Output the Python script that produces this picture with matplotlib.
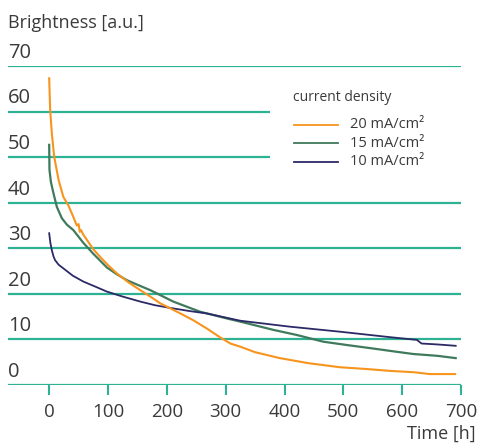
import matplotlib
matplotlib.use("Agg")
import matplotlib.pyplot as plt
from matplotlib.lines import Line2D

# ---- data ----
t_20 = [0, 1.7, 4.5, 8.5, 16, 24, 33, 40, 47, 50, 52, 54, 58, 67, 75, 86, 100, 115, 135, 155, 172, 189, 200, 223, 245, 268, 290, 308, 325, 350, 392, 440, 494, 540, 579, 620, 647, 690]
b_20 = [67.3, 60.3, 55.2, 50.1, 45, 41.3, 39.3, 37.2, 35.0, 35.3, 33.6, 34.0, 33.0, 31.3, 29.8, 28.2, 26.3, 24.5, 22.5, 20.8, 19.4, 17.9, 17.2, 15.7, 14.2, 12.4, 10.5, 9.1, 8.4, 7.2, 5.9, 4.8, 3.9, 3.5, 3.1, 2.8, 2.4, 2.4]

t_15 = [0, 0.5, 3, 7.4, 13, 21.5, 30, 41, 58, 75, 98, 115, 132, 150, 172, 211, 256, 302, 325, 381, 420, 466, 510, 551, 590, 619, 660, 691]
b_15 = [52.7, 47.2, 44.5, 42, 39.1, 36.6, 35.2, 34, 31.2, 28.8, 25.8, 24.3, 23, 22, 20.8, 18.3, 16.1, 14.6, 13.9, 12.1, 11, 9.5, 8.7, 8.0, 7.3, 6.8, 6.4, 5.9]

t_10 = [0, 2, 4.5, 7.4, 10, 16, 24, 40, 58, 80, 98, 125, 155, 180, 211, 240, 268, 300, 325, 409, 494, 579, 625, 633, 660, 691]
b_10 = [33.3, 31.2, 29.6, 28.2, 27.4, 26.4, 25.6, 24.0, 22.7, 21.5, 20.5, 19.4, 18.3, 17.5, 16.8, 16.2, 15.7, 14.8, 14.1, 12.8, 11.7, 10.5, 9.9, 9.1, 8.9, 8.6]

y_ticks = [0, 10, 20, 30, 40, 50, 60, 70]
x_ticks = [0, 100, 200, 300, 400, 500, 600, 700]
legend_labels = ["20 mA/cm²", "15 mA/cm²", "10 mA/cm²"]

C_ORANGE = "#f7941d"
C_GREEN = "#3f7a5c"
C_NAVY = "#2b2a66"
C_GRID = "#2db394"
C_TEXT = "#3a3a3a"

plt.rcParams['font.family'] = ['Open Sans', 'DejaVu Sans']

fig = plt.figure(figsize=(4.78, 4.43), dpi=100)
ax = fig.add_axes([8/478, 1-385/443, 453/478, 319/443])
ax.set_xlim(-70, 700)
ax.set_ylim(0, 70)
for s in ax.spines.values():
    s.set_visible(False)
ax.set_yticks([])
ax.set_xticks(x_ticks)
ax.set_xticklabels([str(v) for v in x_ticks], fontsize=13.5, color=C_TEXT)
ax.tick_params(axis='x', length=7, width=1.5, color=C_GRID, pad=6)

# gridlines
for v in y_ticks:
    xmax = 375 if v in (50, 60) else 700
    ax.plot([-70, xmax], [v, v], color=C_GRID, lw=1.6, zorder=1, solid_capstyle='butt')
    ax.text(-70, v + 0.7, str(v), fontsize=14.5, color=C_TEXT, ha='left', va='bottom')

ax.plot(t_20, b_20, color=C_ORANGE, lw=1.5, zorder=3)
ax.plot(t_15, b_15, color=C_GREEN, lw=1.6, zorder=2)
ax.plot(t_10, b_10, color=C_NAVY, lw=1.3, zorder=2)

fig.text(8/478, 1-28/443, "Brightness [a.u.]", fontsize=13, color=C_TEXT, ha='left', va='baseline')
fig.text(476/478, 1-439/443, "Time [h]", fontsize=13, color=C_TEXT, ha='right', va='baseline')

# legend
fig.text(293/478, 1-101/443, "current density", fontsize=10, color=C_TEXT, ha='left', va='baseline')
for i, (lab, c) in enumerate(zip(legend_labels, [C_ORANGE, C_GREEN, C_NAVY])):
    yp = 1 - (124.7 + 18.5*i)/443
    fig.add_artist(Line2D([294/478, 338/478], [yp, yp], color=c, lw=1.3, transform=fig.transFigure))
    fig.text(350/478, yp, lab, fontsize=10.5, color=C_TEXT, ha='left', va='center')

fig.savefig("out.png", dpi=100)
